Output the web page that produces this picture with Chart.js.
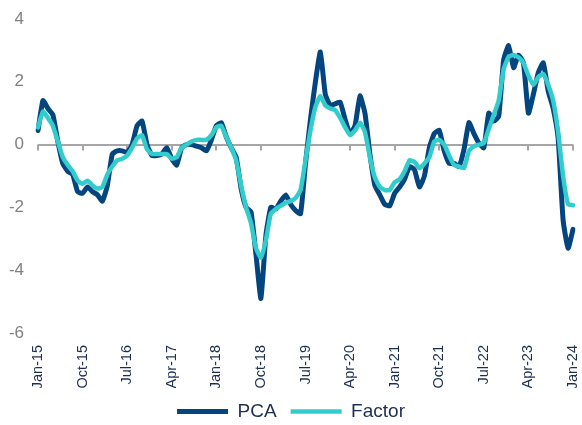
<!DOCTYPE html>
<html>
<head>
<meta charset="utf-8">
<script src="https://cdn.jsdelivr.net/npm/chart.js@4"></script>
<style>
  body { margin: 0; background: #fff; }
  #grafico { display: block; }
</style>
</head>
<body>
<canvas id="grafico" width="582" height="425"></canvas>
<script>
// monthly, Jan-15 .. Jan-24
const meses = ['Jan', 'Feb', 'Mar', 'Apr', 'May', 'Jun', 'Jul', 'Aug', 'Sep', 'Oct', 'Nov', 'Dec'];
const anios = ['15', '16', '17', '18', '19', '20', '21', '22', '23', '24'];

const pca = [
  0.45, 1.4, 1.15, 0.95, 0.1, -0.6, -0.85, -0.95, -1.5, -1.55, -1.35, -1.5,
  -1.6, -1.8, -1.3, -0.3, -0.2, -0.2, -0.25, 0.0, 0.6, 0.75, 0.0, -0.35,
  -0.35, -0.3, -0.1, -0.45, -0.65, -0.1, 0.0, 0.0, -0.05, -0.1, -0.2, 0.15,
  0.6, 0.7, 0.25, -0.1, -0.4, -1.4, -2.0, -2.15, -3.5, -4.9, -2.9, -2.0,
  -2.05, -1.8, -1.6, -1.9, -2.1, -2.2, -0.6, 0.8, 2.0, 2.95, 1.6, 1.25,
  1.3, 1.35, 0.8, 0.35, 0.6, 1.55, 1.0, -0.3, -1.3, -1.6, -1.9, -1.95,
  -1.55, -1.35, -1.1, -0.7, -0.8, -1.35, -1.0, -0.1, 0.35, 0.45, -0.2, -0.6,
  -0.6, -0.7, -0.15, 0.7, 0.35, 0.05, -0.1, 1.0, 0.75, 0.9, 2.7, 3.15,
  2.45, 2.85, 2.6, 1.0, 1.6, 2.3, 2.6, 1.7, 1.15, 0.2, -2.4, -3.3,
  -2.7
];

const factor = [
  0.55, 1.05, 0.85, 0.6, 0.1, -0.4, -0.65, -0.85, -1.15, -1.25, -1.15, -1.3,
  -1.4, -1.35, -0.95, -0.7, -0.5, -0.45, -0.35, -0.1, 0.2, 0.3, -0.15, -0.3,
  -0.3, -0.3, -0.3, -0.45, -0.4, -0.1, 0.0, 0.1, 0.15, 0.15, 0.15, 0.3,
  0.55, 0.6, 0.25, -0.1, -0.5, -1.3, -2.0, -2.5, -3.3, -3.6, -3.05, -2.2,
  -2.05, -1.95, -1.85, -1.8, -1.7, -1.45, -0.5, 0.45, 1.2, 1.55, 1.25, 1.15,
  1.1, 0.85, 0.55, 0.3, 0.45, 0.7, 0.4, -0.4, -1.05, -1.35, -1.45, -1.45,
  -1.2, -1.1, -0.85, -0.5, -0.55, -0.75, -0.6, -0.4, 0.1, 0.15, 0.0, -0.35,
  -0.65, -0.7, -0.75, -0.2, -0.05, 0.0, 0.05, 0.5, 0.95, 1.4, 2.4, 2.8,
  2.85, 2.78, 2.6, 2.2, 1.9, 2.15, 2.25, 1.9, 1.4, 0.4, -1.0, -1.9,
  -1.93
];

const etiquetasX = ['Jan-15', 'Oct-15', 'Jul-16', 'Apr-17', 'Jan-18', 'Oct-18', 'Jul-19',
  'Apr-20', 'Jan-21', 'Oct-21', 'Jul-22', 'Apr-23', 'Jan-24'];
const ticksY = [4, 2, 0, -2, -4, -6];

const fechas = [];
anios.forEach(a => meses.forEach(m => fechas.push(m + '-' + a)));
fechas.length = pca.length;

const gris = '#a6a6a6';

const marcasEje = {
  id: 'marcasEje',
  beforeDatasetsDraw(chart) {
    const { ctx, scales: { x, y } } = chart;
    const y0 = y.getPixelForValue(0);
    ctx.save();
    ctx.strokeStyle = gris;
    ctx.lineWidth = 2;
    fechas.forEach((f, i) => {
      if (!etiquetasX.includes(f)) return;
      const px = Math.round(x.getPixelForValue(i));
      ctx.beginPath();
      ctx.moveTo(px, y0);
      ctx.lineTo(px, y0 + 6);
      ctx.stroke();
    });
    ctx.restore();
  }
};

const ctx = document.getElementById('grafico').getContext('2d');
new Chart(ctx, {
  type: 'line',
  data: {
    labels: fechas,
    datasets: [
      {
        label: 'Factor',
        data: factor,
        borderColor: '#33cccc',
        backgroundColor: '#33cccc',
        borderWidth: 4.5,
        borderCapStyle: 'round',
        borderJoinStyle: 'round',
        pointRadius: 0,
        tension: 0.15
      },
      {
        label: 'PCA',
        data: pca,
        borderColor: '#03457f',
        backgroundColor: '#03457f',
        borderWidth: 5,
        borderCapStyle: 'round',
        borderJoinStyle: 'round',
        pointRadius: 0,
        tension: 0.15
      }
    ]
  },
  options: {
    responsive: false,
    animation: false,
    layout: { padding: { top: 19, right: 0, left: 0, bottom: -6 } },
    plugins: {
      legend: {
        position: 'bottom',
        reverse: true,
        labels: {
          usePointStyle: true,
          pointStyle: 'line',
          pointStyleWidth: 51,
          padding: 14,
          color: '#1c2f50',
          font: { family: 'Liberation Sans, Arial', size: 19 }
        }
      },
      tooltip: { enabled: false }
    },
    scales: {
      x: {
        offset: false,
        grid: { display: false, drawTicks: false },
        border: { display: false },
        afterFit: s => { s.height = 55; s.paddingRight = 9; s.paddingLeft = 0; },
        ticks: {
          autoSkip: false,
          maxRotation: 90,
          minRotation: 90,
          padding: 12,
          color: '#1c2f50',
          font: { family: 'Liberation Sans, Arial', size: 14.5 },
          callback: (v, i) => etiquetasX.includes(fechas[i]) ? fechas[i] : ''
        }
      },
      y: {
        min: -6,
        max: 4,
        afterBuildTicks: s => { s.ticks = ticksY.map(v => ({ value: v })); },
        afterFit: s => { s.width = 38; s.paddingTop = 0; s.paddingBottom = 0; },
        border: { display: false },
        grid: {
          drawTicks: false,
          lineWidth: 2,
          color: c => c.tick && c.tick.value === 0 ? gris : 'rgba(0,0,0,0)'
        },
        ticks: {
          padding: 14,
          color: '#808080',
          font: { family: 'Liberation Sans, Arial', size: 17 }
        }
      }
    }
  },
  plugins: [marcasEje]
});
</script>
</body>
</html>
